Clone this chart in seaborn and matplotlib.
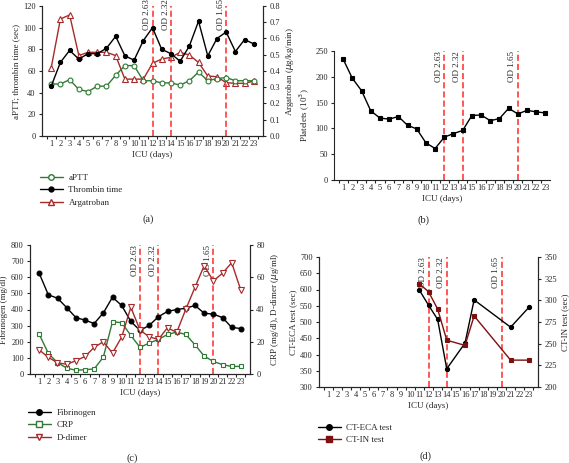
import numpy as np
import matplotlib
matplotlib.use("Agg")
import matplotlib.pyplot as plt
from matplotlib.ticker import MultipleLocator
import seaborn as sns

# ---- data ----
days = list(range(1, 24))
aptt = [48, 48, 52, 43, 41, 46, 46, 56, 65, 65, 51, 51, 49, 49, 47, 51, 59, 51, 53, 54, 51, 51, 51]
thrombin = [46, 68, 79, 71, 76, 76, 81, 92, 74, 70, 88, 100, 80, 76, 69, 83, 106, 74, 90, 96, 78, 89, 85]
argatroban = [0.42, 0.72, 0.745, 0.495, 0.515, 0.515, 0.515, 0.495, 0.35, 0.35, 0.35, 0.447, 0.474,
              0.484, 0.515, 0.498, 0.453, 0.369, 0.365, 0.328, 0.324, 0.324, 0.338]
platelets = [234, 197, 173, 134, 120, 118, 123, 106, 99, 72, 61, 83, 90, 96, 125, 126, 115, 119,
             139, 128, 135, 132, 130]
fibrinogen = [625, 491, 470, 412, 350, 334, 313, 379, 476, 425, 326, 270, 301, 355, 388, 400, 408,
              425, 377, 371, 350, 289, 282]
crp = [24.7, 12.8, 7.0, 3.7, 2.3, 2.7, 3.1, 10.5, 32.4, 31.8, 23.9, 16.5, 19.2, 21.4, 24.5, 26.0,
       24.5, 18.1, 11.1, 7.8, 5.8, 4.7, 4.7]
ddimer = [15.0, 10.3, 7.0, 6.0, 8.2, 10.9, 16.5, 20.0, 13.0, 22.9, 41.4, 27.2, 23.1, 21.4, 28.7,
          25.8, 40.2, 53.8, 67.2, 57.7, 62.5, 69.0, 52.0]
ct_days = [11, 12, 13, 14, 16, 17, 21, 23]
ct_eca = [598, 552, 508, 356, 435, 568, 484, 545]
ct_in = [319, 310, 290, 254, 248, 282, 231, 231]
od_days = [12, 14, 20]
od_labels = ["OD 2.63", "OD 2.32", "OD 1.65"]

GREEN = "#2f7a35"
RED = "#a52a2a"
DARKRED = "#7f1010"
DASH = "#ff2a2a"

sns.set_style("ticks")
plt.rcParams["font.family"] = ["Liberation Serif", "DejaVu Serif"]
plt.rcParams["font.size"] = 6
plt.rcParams["axes.linewidth"] = 0.8
plt.rcParams["xtick.major.size"] = 2.5
plt.rcParams["ytick.major.size"] = 2.5
plt.rcParams["xtick.minor.size"] = 2.5

W, H = 569, 463
fig = plt.figure(figsize=(W / 100, H / 100), dpi=100)


def add_axes(l, t, r, b):
    return fig.add_axes([l / W, 1 - b / H, (r - l) / W, (b - t) / H])


def style_x(ax, xmax=24):
    ax.set_xlim(0, xmax)
    ax.set_xticks(days)
    ax.set_xticklabels([str(d) for d in days], fontsize=6)
    ax.xaxis.set_minor_locator(MultipleLocator(1))
    ax.set_xticks(np.arange(0.5, xmax, 1), minor=True)
    ax.tick_params(axis="x", which="major", length=0, pad=3)
    ax.tick_params(axis="x", which="minor", length=2.5, width=0.8)
    ax.tick_params(axis="y", labelsize=6, width=0.8, pad=2)
    ax.set_xlabel("ICU (days)", fontsize=6.5, labelpad=2)
    ax.spines["top"].set_visible(False)


def od_lines(ax, ytxt=1.0):
    trans = ax.get_xaxis_transform()
    for d, lab in zip(od_days, od_labels):
        ax.axvline(d, color=DASH, ls=(0, (4, 2)), lw=1.1, zorder=1)
        ax.text(d - 0.15, ytxt, lab, transform=trans, rotation=90, ha="right", va="top",
                fontsize=6.5, clip_on=False)


def line(ax, x, y, color, marker, face, ms=3.5, label=None):
    sns.lineplot(x=x, y=y, ax=ax, color=color, marker=marker, markersize=ms,
                 markerfacecolor=face, markeredgecolor=color, markeredgewidth=0.8,
                 lw=1.0, label=label, legend=False)


# ---- (a) ----
ax = add_axes(42, 6, 263, 136)
ax2 = ax.twinx()
line(ax, days, aptt, GREEN, "o", "white")
line(ax, days, thrombin, "black", "o", "black", ms=3)
line(ax2, days, argatroban, RED, "^", "white", ms=4)
ax.set_ylim(0, 120)
ax.set_yticks(range(0, 121, 20))
ax2.set_ylim(0, 0.8)
ax2.set_yticks(np.arange(0, 0.81, 0.1))
ax2.set_yticklabels([f"{v:.1f}" for v in np.arange(0, 0.81, 0.1)])
ax2.tick_params(axis="y", labelsize=6, width=0.8, pad=2)
ax2.spines["top"].set_visible(False)
style_x(ax)
od_lines(ax, 1.05)
ax.set_ylabel("aPTT; thrombin time (sec)", fontsize=6.5, labelpad=2)
ax2.set_ylabel("Argatroban ($\\mu$g/kg/min)", fontsize=6.5, labelpad=3)
ax.set_zorder(ax2.get_zorder() + 1)
ax.patch.set_visible(False)
h = [plt.Line2D([], [], color=GREEN, marker="o", mfc="white", ms=4, lw=1),
     plt.Line2D([], [], color="black", marker="o", mfc="black", ms=3.5, lw=1),
     plt.Line2D([], [], color=RED, marker="^", mfc="white", ms=4, lw=1)]
fig.legend(h, ["aPTT", "Thrombin time", "Argatroban"], loc="upper left",
           bbox_to_anchor=(36 / W, 1 - 170 / H), frameon=False, fontsize=6.5,
           handlelength=2.6, labelspacing=0.45, handletextpad=0.6, borderaxespad=0)
fig.text(148 / W, 1 - 219 / H, "(a)", ha="center", va="center", fontsize=7.5)

# ---- (b) ----
ax = add_axes(334, 51, 550, 180)
line(ax, days, platelets, "black", "s", "black", ms=2.8)
ax.set_ylim(0, 250)
ax.set_yticks(range(0, 251, 50))
style_x(ax, 23.5)
ax.spines["right"].set_visible(False)
od_lines(ax, 1.0)
ax.set_ylabel("Platelets (10$^3$)", fontsize=6.5, labelpad=2)
fig.text(423 / W, 1 - 220 / H, "(b)", ha="center", va="center", fontsize=7.5)

# ---- (c) ----
ax = add_axes(30, 245, 250, 374)
ax2 = ax.twinx()
line(ax, days, fibrinogen, "black", "o", "black", ms=3.5)
line(ax2, days, crp, GREEN, "s", "white", ms=3.5)
line(ax2, days, ddimer, RED, "v", "white", ms=4)
ax.set_ylim(0, 800)
ax.set_yticks(range(0, 801, 100))
ax2.set_ylim(0, 80)
ax2.set_yticks(range(0, 81, 20))
ax2.tick_params(axis="y", labelsize=6, width=0.8, pad=2)
ax2.spines["top"].set_visible(False)
style_x(ax)
od_lines(ax, 1.0)
ax.set_ylabel("Fibrinogen (mg/dl)", fontsize=6.5, labelpad=2)
ax2.set_ylabel("CRP (mg/dl), D-dimer ($\\mu$g/ml)", fontsize=6.5, labelpad=3)
h = [plt.Line2D([], [], color="black", marker="o", mfc="black", ms=4, lw=1),
     plt.Line2D([], [], color=GREEN, marker="s", mfc="white", ms=4, lw=1),
     plt.Line2D([], [], color=RED, marker="v", mfc="white", ms=4.5, lw=1)]
fig.legend(h, ["Fibrinogen", "CRP", "D-dimer"], loc="upper left",
           bbox_to_anchor=(24 / W, 1 - 405 / H), frameon=False, fontsize=6.5,
           handlelength=2.6, labelspacing=0.45, handletextpad=0.6, borderaxespad=0)
fig.text(132 / W, 1 - 458 / H, "(c)", ha="center", va="center", fontsize=7.5)

# ---- (d) ----
ax = add_axes(319, 257, 538, 387)
ax2 = ax.twinx()
line(ax, ct_days, ct_eca, "black", "o", "black", ms=3)
line(ax2, ct_days, ct_in, DARKRED, "s", DARKRED, ms=3.5)
ax.set_ylim(300, 700)
ax.set_yticks(range(300, 701, 50))
ax2.set_ylim(200, 350)
ax2.set_yticks(range(200, 351, 25))
ax2.tick_params(axis="y", labelsize=6, width=0.8, pad=2)
ax2.spines["top"].set_visible(False)
style_x(ax)
od_lines(ax, 1.0)
ax.set_ylabel("CT-ECA test (sec)", fontsize=6.5, labelpad=2)
ax2.set_ylabel("CT-IN test (sec)", fontsize=6.5, labelpad=3)
h = [plt.Line2D([], [], color="black", marker="o", mfc="black", ms=4, lw=1),
     plt.Line2D([], [], color=DARKRED, marker="s", mfc=DARKRED, ms=4, lw=1)]
fig.legend(h, ["CT-ECA test", "CT-IN test"], loc="upper left",
           bbox_to_anchor=(314 / W, 1 - 420 / H), frameon=False, fontsize=6.5,
           handlelength=2.6, labelspacing=0.45, handletextpad=0.6, borderaxespad=0)
fig.text(426 / W, 1 - 456 / H, "(d)", ha="center", va="center", fontsize=7.5)

fig.savefig("out.png", dpi=100)
